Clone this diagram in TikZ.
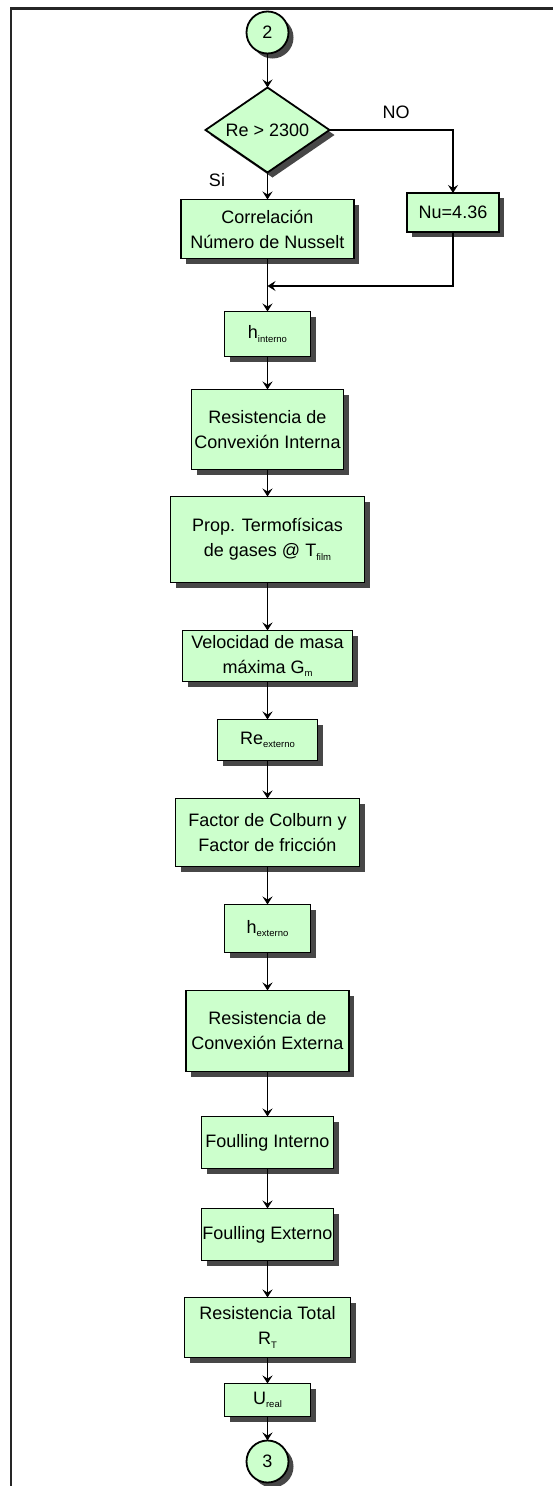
\documentclass[tikz,border=0pt]{standalone}
\usepackage{fontspec}
\setmainfont{Liberation Sans}
\usepackage{xcolor}
\usetikzlibrary{arrows.meta, positioning, shapes.geometric, shadows}
\definecolor{boxgreen}{RGB}{204,255,204}
\newcommand{\lowsub}[1]{\raisebox{-3.5pt}{\fontsize{9.5}{10}\selectfont #1}}

\begin{document}
\begin{tikzpicture}[x=1pt, y=-1pt, line width=1.8pt, >={Stealth[length=8pt, width=10pt, inset=3pt]},
    every node/.style={font=\fontsize{18}{25}\selectfont},
    dropsh/.style={drop shadow={shadow xshift=5pt, shadow yshift=-5pt, fill=black!72, opacity=1}},
    proc/.style={rectangle, draw, fill=boxgreen, inner sep=0pt, outer sep=0pt, align=center, dropsh},
    conn/.style={circle, draw, fill=boxgreen, minimum size=42pt, inner sep=0pt, outer sep=0pt, dropsh},
    decision/.style={diamond, draw, fill=boxgreen, aspect=1.46, minimum width=124pt, minimum height=85pt, inner sep=0pt, outer sep=0pt, dropsh}]
    \useasboundingbox (0,0) rectangle (552,1486);
    % frame, open to the right and below
    \draw[line width=2.4pt, black!85] (11,1492) -- (11,8.5) -- (558,8.5);

    \node[conn] (c2) at (267.5,32.5) {2};
    \node[decision, below=34pt of c2] (dec) {Re > 2300};
    \node[proc, minimum width=173pt, minimum height=59pt, below=27pt of dec] (corr) {Correlación\\Número de Nusselt};
    \node[proc, minimum width=92pt, minimum height=39pt] (nu) at (453,212.5) {Nu=4.36};
    \node (lblno) at (396,112) {NO};
    \node (lblsi) at (217,180) {Si};
    \coordinate (mrg) at (267.5,286);
    \node[proc, minimum width=86pt, minimum height=45pt, below=53pt of corr] (hin) {h\lowsub{interno}};
    \node[proc, minimum width=152pt, minimum height=80pt, below=33pt of hin] (rint) {Resistencia de\\Convexión Interna};
    \node[proc, minimum width=194pt, minimum height=86pt, below=27pt of rint] (prop) {Prop. Termofísicas\\de gases @ T\lowsub{film}};
    \node[proc, minimum width=170pt, minimum height=51pt, below=48pt of prop] (vel) {Velocidad de masa\\máxima G\lowsub{m}};
    \node[proc, minimum width=100pt, minimum height=41pt, below=38pt of vel] (rext) {Re\lowsub{externo}};
    \node[proc, minimum width=184pt, minimum height=68pt, below=38pt of rext] (colb) {Factor de Colburn y\\Factor de fricción};
    \node[proc, minimum width=86pt, minimum height=48pt, below=38pt of colb] (hext) {h\lowsub{externo}};
    \node[proc, minimum width=163pt, minimum height=81pt, below=38pt of hext] (rcext) {Resistencia de\\Convexión Externa};
    \node[proc, minimum width=132pt, minimum height=52pt, below=45pt of rcext] (fint) {Foulling Interno};
    \node[proc, minimum width=132pt, minimum height=52pt, below=40pt of fint] (fext) {Foulling Externo};
    \node[proc, minimum width=166pt, minimum height=60pt, below=37pt of fext] (rtot) {Resistencia Total\\R\lowsub{T}};
    \node[proc, minimum width=86pt, minimum height=33pt, below=26pt of rtot] (ureal) {U\lowsub{real}};
    \node[conn, below=24pt of ureal] (c3) {3};

    \draw[->] (c2) -- (dec);
    \draw[->] (dec.east) -| (nu.north);
    \draw[->] (dec) -- (corr);
    % the NO branch joins the main line again
    \draw[->] (nu.south) |- (mrg);
    \draw[->] (corr) -- (hin);
    \draw[->] (hin) -- (rint);
    \draw[->] (rint) -- (prop);
    \draw[->] (prop) -- (vel);
    \draw[->] (vel) -- (rext);
    \draw[->] (rext) -- (colb);
    \draw[->] (colb) -- (hext);
    \draw[->] (hext) -- (rcext);
    \draw[->] (rcext) -- (fint);
    \draw[->] (fint) -- (fext);
    \draw[->] (fext) -- (rtot);
    \draw[->] (rtot) -- (ureal);
    \draw[->] (ureal) -- (c3);
\end{tikzpicture}
\end{document}
